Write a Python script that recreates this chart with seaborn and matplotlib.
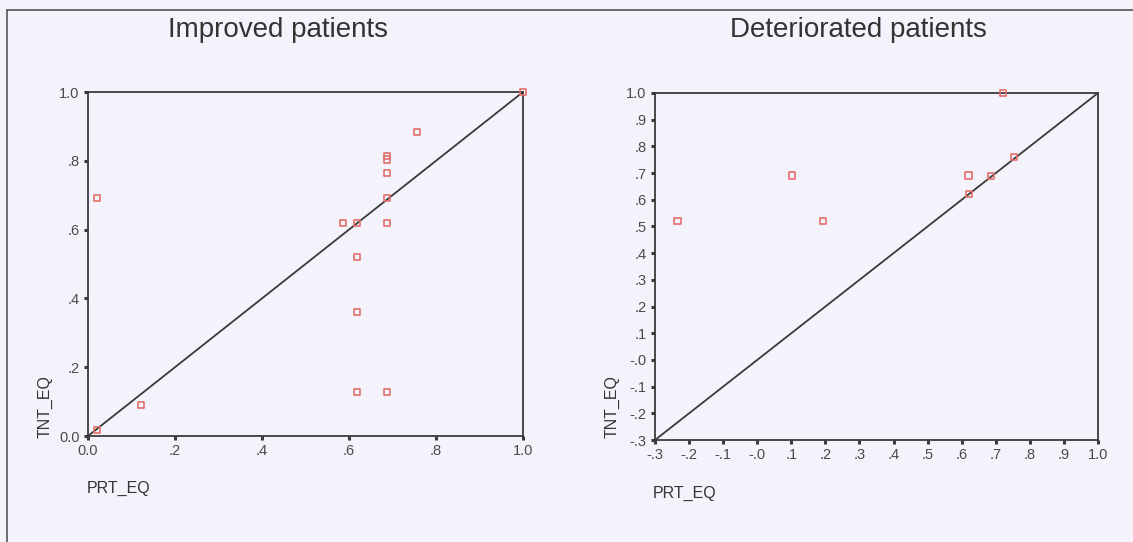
import matplotlib
matplotlib.use("Agg")
import matplotlib.pyplot as plt
import seaborn as sns
import pandas as pd
from matplotlib.lines import Line2D

# ---- data ----
improved_prt = [0.02, 0.02, 0.121, 0.587, 0.619, 0.619, 0.619, 0.619, 0.687, 0.687, 0.687, 0.687, 0.687, 0.688, 0.756, 1.0]
improved_tnt = [0.691, 0.017, 0.089, 0.620, 0.620, 0.521, 0.361, 0.129, 0.813, 0.804, 0.764, 0.691, 0.620, 0.129, 0.883, 1.0]

deteriorated_prt = [-0.234, 0.103, 0.194, 0.620, 0.622, 0.686, 0.721, 0.754]
deteriorated_tnt = [0.519, 0.691, 0.519, 0.691, 0.622, 0.689, 1.0, 0.759]

diag_left = [0.0, 1.0]
diag_right = [-0.3, 1.0]

left_ticks = [0.0, 0.2, 0.4, 0.6, 0.8, 1.0]
left_ticklabels = ["0.0", ".2", ".4", ".6", ".8", "1.0"]
right_ticks = [-0.3, -0.2, -0.1, 0.0, 0.1, 0.2, 0.3, 0.4, 0.5, 0.6, 0.7, 0.8, 0.9, 1.0]
right_ticklabels = ["-.3", "-.2", "-.1", "-.0", ".1", ".2", ".3", ".4", ".5", ".6", ".7", ".8", ".9", "1.0"]

titles = ["Improved patients", "Deteriorated patients"]

# ---- style ----
sns.set_theme(style="white")
plt.rcParams["font.family"] = ["Liberation Sans", "DejaVu Sans"]
bg = "#F4F3FB"
ink = "#3a3a3a"
marker_col = "#E2706A"

fig = plt.figure(figsize=(11.33, 5.42), dpi=100, facecolor=bg)
W, H = 1133, 542

def add_ax(x0, y0, x1, y1):
    return fig.add_axes([x0 / W, 1 - y1 / H, (x1 - x0) / W, (y1 - y0) / H])

ax1 = add_ax(88, 92, 523, 436)
ax2 = add_ax(655, 93, 1098, 440)

panels = [
    (ax1, improved_prt, improved_tnt, diag_left, left_ticks, left_ticklabels, (0.0, 1.0)),
    (ax2, deteriorated_prt, deteriorated_tnt, diag_right, right_ticks, right_ticklabels, (-0.3, 1.0)),
]

for ax, xs, ys, diag, ticks, tlabels, lim in panels:
    ax.set_facecolor(bg)
    sns.lineplot(x=diag, y=diag, ax=ax, color=ink, linewidth=1.3)
    sns.scatterplot(x=xs, y=ys, ax=ax, marker="s", s=20, facecolors="none",
                    edgecolor=marker_col, linewidth=1.2, clip_on=False, zorder=5)
    ax.set_xlim(*lim)
    ax.set_ylim(*lim)
    ax.set_xticks(ticks)
    ax.set_xticklabels(tlabels)
    ax.set_yticks(ticks)
    ax.set_yticklabels(tlabels)
    ax.tick_params(axis="both", direction="out", length=3, width=2.2, color=ink,
                   labelsize=10.5, labelcolor="#4a4a4a", pad=3,
                   bottom=True, left=True)
    for sp in ax.spines.values():
        sp.set_visible(True)
        sp.set_color(ink)
        sp.set_linewidth(1.3)
    ax.set_xlabel("")
    ax.set_ylabel("")

# titles
fig.text(278 / W, 1 - 30 / H, titles[0], ha="center", va="center", fontsize=20, color="#333333")
fig.text(858 / W, 1 - 30 / H, titles[1], ha="center", va="center", fontsize=20, color="#333333")

# axis labels (placed bottom-left like the original)
fig.text(45 / W, 1 - 407 / H, "TNT_EQ", rotation=90, ha="center", va="center", fontsize=11.5, color="#333333")
fig.text(87 / W, 1 - 488 / H, "PRT_EQ", ha="left", va="center", fontsize=11.5, color="#333333")
fig.text(612 / W, 1 - 407 / H, "TNT_EQ", rotation=90, ha="center", va="center", fontsize=11.5, color="#333333")
fig.text(653 / W, 1 - 493 / H, "PRT_EQ", ha="left", va="center", fontsize=11.5, color="#333333")

# outer frame (top and left edges)
fig.add_artist(Line2D([7 / W, 1.0], [1 - 10 / H, 1 - 10 / H], transform=fig.transFigure, color="#555555", linewidth=1.2))
fig.add_artist(Line2D([7 / W, 7 / W], [0.0, 1 - 10 / H], transform=fig.transFigure, color="#555555", linewidth=1.2))

fig.savefig("out.png", dpi=100, facecolor=bg)
